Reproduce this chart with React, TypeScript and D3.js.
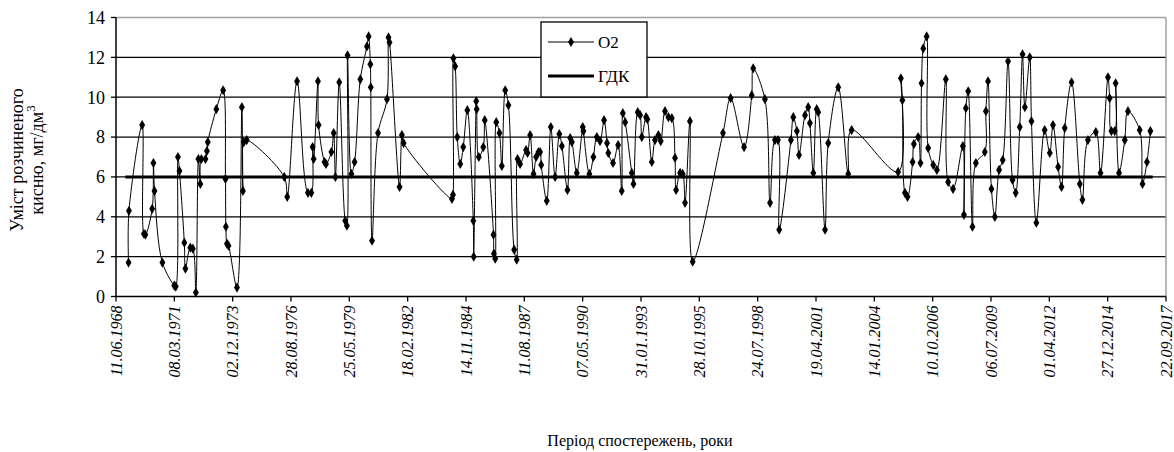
import * as d3 from "d3"

// observation dates as decimal years, and dissolved oxygen, mg/dm3
const o2Years = [
  1969.03, 1969.05, 1969.67, 1969.75, 1969.82, 1970.14, 1970.2, 1970.25, 1970.62, 1971.18,
  1971.25, 1971.35, 1971.42, 1971.65, 1971.7, 1971.93, 1972.05, 1972.19, 1972.31, 1972.4,
  1972.45, 1972.64, 1972.71, 1972.75, 1973.15, 1973.47, 1973.58, 1973.6, 1973.65, 1973.72,
  1974.12, 1974.35, 1974.4, 1974.44, 1974.58, 1976.34, 1976.48, 1976.94, 1977.45, 1977.61,
  1977.67, 1977.72, 1977.92, 1977.95, 1978.23, 1978.3, 1978.55, 1978.66, 1978.74, 1978.92,
  1979.2, 1979.28, 1979.31, 1979.49, 1979.64, 1979.91, 1980.22, 1980.3, 1980.38, 1980.4,
  1980.46, 1980.74, 1981.16, 1981.23, 1981.28, 1981.75, 1981.86, 1981.94, 1984.21, 1984.26,
  1984.28, 1984.36, 1984.46, 1984.6, 1984.74, 1984.93, 1985.21, 1985.23, 1985.35, 1985.37,
  1985.47, 1985.68, 1985.75, 1986.16, 1986.18, 1986.24, 1986.29, 1986.44, 1986.55, 1986.71,
  1986.86, 1987.13, 1987.25, 1987.29, 1987.41, 1987.69, 1987.76, 1987.88, 1988.04, 1988.16,
  1988.27, 1988.35, 1988.4, 1988.66, 1988.85, 1989.05, 1989.25, 1989.37, 1989.63, 1989.76,
  1989.84, 1990.07, 1990.35, 1990.38, 1990.66, 1990.85, 1991.01, 1991.16, 1991.35, 1991.49,
  1991.55, 1991.77, 1992.01, 1992.18, 1992.23, 1992.34, 1992.65, 1992.73, 1992.93, 1993.04,
  1993.12, 1993.32, 1993.38, 1993.59, 1993.74, 1993.9, 1994.01, 1994.21, 1994.37, 1994.53,
  1994.68, 1994.73, 1994.92, 1995.04, 1995.15, 1995.38, 1995.51, 1996.93, 1997.29, 1997.92,
  1998.28, 1998.35, 1998.9, 1999.14, 1999.37, 1999.51, 1999.57, 2000.12, 2000.23, 2000.4,
  2000.5, 2000.78, 2000.93, 2001.01, 2001.17, 2001.33, 2001.4, 2001.72, 2001.87, 2002.34,
  2002.81, 2002.97, 2005.15, 2005.28, 2005.35, 2005.47, 2005.59, 2005.83, 2005.89, 2006.09,
  2006.2, 2006.25, 2006.33, 2006.49, 2006.56, 2006.8, 2006.97, 2007.39, 2007.5, 2007.73,
  2008.19, 2008.24, 2008.33, 2008.44, 2008.64, 2008.8, 2009.22, 2009.27, 2009.37, 2009.53,
  2009.69, 2009.89, 2010.06, 2010.31, 2010.52, 2010.67, 2010.86, 2010.99, 2011.1, 2011.33,
  2011.41, 2011.64, 2012.03, 2012.27, 2012.42, 2012.66, 2012.82, 2012.97, 2013.29, 2013.68,
  2013.8, 2014.06, 2014.43, 2014.65, 2015.0, 2015.08, 2015.16, 2015.32, 2015.36, 2015.52,
  2015.79, 2015.94, 2016.49, 2016.62, 2016.83, 2016.99,
]

const o2Values = [
  1.7, 4.3, 8.6, 3.15, 3.1, 4.4, 6.7, 5.3, 1.7, 0.55,
  0.5, 7.0, 6.3, 2.7, 1.4, 2.45, 2.4, 0.2, 6.9, 5.65,
  6.9, 6.9, 7.3, 7.75, 9.4, 10.35, 5.9, 3.5, 2.65, 2.55,
  0.45, 9.5, 5.3, 7.75, 7.85, 6.0, 5.0, 10.8, 5.2, 5.2,
  7.5, 6.9, 10.8, 8.6, 6.75, 6.65, 7.25, 8.2, 6.0, 10.75,
  3.8, 3.55, 12.1, 6.15, 6.75, 10.9, 12.55, 13.05, 11.65, 10.5,
  2.8, 8.2, 9.9, 13.0, 12.75, 5.5, 8.1, 7.7, 4.9, 5.1,
  11.95, 11.55, 8.0, 6.65, 7.5, 9.35, 3.8, 2.0, 9.8, 9.4,
  7.0, 7.5, 8.85, 3.1, 2.15, 1.9, 8.75, 8.2, 6.55, 10.35,
  9.6, 2.35, 1.85, 6.9, 6.65, 7.35, 7.2, 8.1, 6.15, 7.0,
  7.25, 7.25, 6.6, 4.8, 8.5, 6.0, 8.15, 7.55, 5.35, 7.95,
  7.75, 6.2, 8.5, 8.3, 6.15, 7.0, 8.0, 7.8, 8.85, 7.7,
  7.2, 6.7, 7.6, 5.3, 9.2, 8.75, 6.2, 5.65, 9.25, 9.1,
  8.0, 9.0, 8.9, 6.75, 7.85, 8.1, 7.8, 9.3, 9.0, 8.95,
  6.95, 5.35, 6.2, 6.15, 4.7, 8.8, 1.75, 8.2, 9.95, 7.5,
  10.1, 11.45, 9.9, 4.7, 7.85, 7.85, 3.35, 7.85, 9.0, 8.3,
  7.1, 9.1, 9.5, 8.7, 6.2, 9.4, 9.25, 3.35, 7.7, 10.5,
  6.15, 8.35, 6.25, 10.95, 9.85, 5.2, 5.0, 6.75, 7.65, 8.0,
  6.7, 10.7, 12.45, 13.05, 7.45, 6.6, 6.35, 10.9, 5.75, 5.4,
  7.55, 4.1, 9.45, 10.3, 3.5, 6.7, 7.25, 9.3, 10.8, 5.4,
  4.0, 6.35, 6.85, 11.8, 5.85, 5.2, 8.5, 12.15, 9.5, 12.0,
  8.8, 3.7, 8.35, 7.2, 8.6, 6.5, 5.5, 8.45, 10.75, 5.65,
  4.85, 7.85, 8.25, 6.2, 11.0, 9.95, 8.3, 8.3, 10.7, 6.2,
  7.85, 9.3, 8.35, 5.65, 6.75, 8.3,
]

// maximum permissible concentration
const gdkYears = [1968.88, 2017.1]
const gdkValues = [6, 6]

const yTicks = [0, 2, 4, 6, 8, 10, 12, 14]
const seriesNames = ["O2", "ГДК"]

const W = 1174
const H = 452
const font = '"Liberation Serif", "DejaVu Serif", serif'

function yearToDate(y: number) {
  const yr = Math.floor(y)
  const a = Date.UTC(yr, 0, 1)
  const b = Date.UTC(yr + 1, 0, 1)
  return new Date(a + (y - yr) * (b - a))
}

export default function App() {
  const start = new Date(Date.UTC(1968, 5, 11))
  const end = new Date(Date.UTC(2017, 8, 22))
  const x = d3.scaleUtc().domain([start, end]).range([116, 1166])
  const y = d3.scaleLinear().domain([0, 14]).range([296.5, 17.5])

  // Excel-like date axis: a major unit of 1000 days
  const xTicks = d3.range(0, 19).map((i) => new Date(start.getTime() + i * 1000 * 864e5))
  const fmt = d3.utcFormat("%d.%m.%Y")

  const o2 = o2Years.map((yr, i) => ({ d: yearToDate(yr), v: o2Values[i] }))
  const gdk = gdkYears.map((yr, i) => ({ d: yearToDate(yr), v: gdkValues[i] }))

  const line = d3
    .line<{ d: Date; v: number }>()
    .x((p) => x(p.d))
    .y((p) => y(p.v))
    .curve(d3.curveCatmullRom.alpha(0.5))

  const marker = d3.symbol().type(d3.symbolDiamond).size(30)()

  const left = x.range()[0]
  const right = x.range()[1]

  return (
    <svg
      width={W}
      height={H}
      style={{ position: "absolute", left: 0, top: 0, background: "#fff", fontFamily: font }}
    >
      {/* grid */}
      {yTicks.slice(1).map((t) => (
        <line
          key={t}
          x1={left}
          x2={right}
          y1={y(t)}
          y2={y(t)}
          stroke={t === 14 ? "#a0a0a0" : "#000"}
          strokeWidth={t === 14 ? 1.5 : 1.3}
        />
      ))}
      <line x1={right} x2={right} y1={y(14)} y2={y(0)} stroke="#a0a0a0" strokeWidth={1.5} />

      {/* ГДК */}
      <path d={line(gdk) ?? ""} fill="none" stroke="#000" strokeWidth={3} />

      {/* O2 */}
      <path d={line(o2) ?? ""} fill="none" stroke="#000" strokeWidth={1} />
      {o2.map((p, i) => (
        <path key={i} d={marker ?? ""} transform={`translate(${x(p.d)},${y(p.v)})`} fill="#000" />
      ))}

      {/* y axis */}
      <line x1={left} x2={left} y1={y(14)} y2={y(0)} stroke="#000" strokeWidth={1.5} />
      {yTicks.map((t) => (
        <g key={t} transform={`translate(${left},${y(t)})`}>
          <line x1={-5} x2={0} stroke="#000" strokeWidth={1.3} />
          <text x={-11} dy="0.35em" textAnchor="end" fontSize={18} style={{ fontFamily: font }}>
            {t}
          </text>
        </g>
      ))}

      {/* x axis */}
      <line x1={left} x2={right} y1={y(0)} y2={y(0)} stroke="#000" strokeWidth={1.5} />
      {xTicks.map((t, i) => (
        <g key={i} transform={`translate(${x(t)},${y(0)})`}>
          <line y1={0} y2={5} stroke="#000" strokeWidth={1.3} />
          <text
            transform="translate(0,9) rotate(-90)"
            dy="0.35em"
            textAnchor="end"
            fontSize={16}
            fontStyle="italic"
            style={{ fontFamily: font }}
          >
            {fmt(t)}
          </text>
        </g>
      ))}

      {/* axis titles */}
      <text x={640} y={446} textAnchor="middle" fontSize={16} style={{ fontFamily: font }}>
        Період спостережень, роки
      </text>
      <g transform="translate(0,160) rotate(-90)" style={{ fontFamily: font }}>
        <text x={0} y={23} textAnchor="middle" fontSize={18}>
          Уміст розчиненого
        </text>
        <text x={0} y={43} textAnchor="middle" fontSize={18}>
          кисню, мг/дм
          <tspan dy={-8} fontSize={13}>
            3
          </tspan>
        </text>
      </g>

      {/* legend */}
      <g transform="translate(541,22)" style={{ fontFamily: font }}>
        <rect width={106} height={75} fill="#fff" stroke="#000" strokeWidth={1.3} />
        <line x1={7} x2={53} y1={20} y2={20} stroke="#000" strokeWidth={1} />
        <path d={marker ?? ""} transform="translate(30,20)" fill="#000" />
        <text x={57} y={20} dy="0.35em" fontSize={17}>
          {seriesNames[0]}
        </text>
        <line x1={7} x2={53} y1={54} y2={54} stroke="#000" strokeWidth={3} />
        <text x={57} y={54} dy="0.35em" fontSize={17}>
          {seriesNames[1]}
        </text>
      </g>
    </svg>
  )
}
